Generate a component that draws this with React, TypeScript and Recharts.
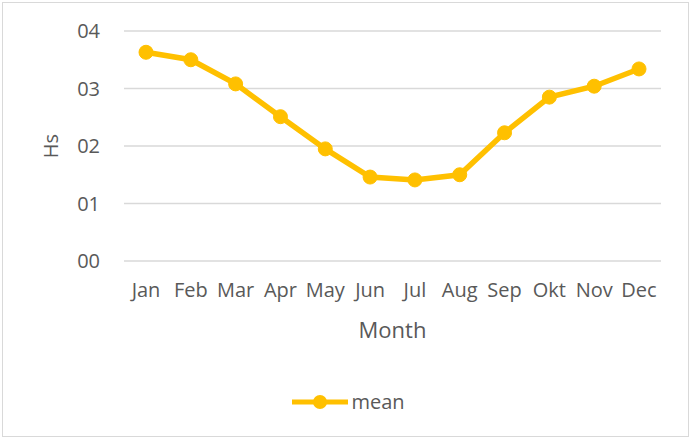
import React from 'react';
import {
  LineChart,
  Line,
  XAxis,
  YAxis,
  CartesianGrid,
  Legend,
  Label,
} from 'recharts';

const months = ['Jan', 'Feb', 'Mar', 'Apr', 'May', 'Jun', 'Jul', 'Aug', 'Sep', 'Okt', 'Nov', 'Dec'];
const meanHs = [3.63, 3.5, 3.08, 2.51, 1.95, 1.46, 1.41, 1.5, 2.23, 2.85, 3.04, 3.34];
const yTicks = [0, 1, 2, 3, 4];

const data = months.map((m, i) => ({ month: m, mean: meanHs[i] }));

const FONT = '"Open Sans", "Liberation Sans", sans-serif';
const TEXT = '#595959';
const GOLD = '#FFC000';

const LegendContent = (props: any) => {
  const item = props.payload && props.payload[0];
  if (!item) return null;
  return (
    <div style={{ display: 'flex', justifyContent: 'center', alignItems: 'center', paddingLeft: 6 }}>
      <svg width={56} height={18}>
        <line x1={0} y1={9} x2={56} y2={9} stroke={GOLD} strokeWidth={5} strokeLinecap="round" />
        <circle cx={28} cy={9} r={7} fill={GOLD} />
      </svg>
      <span style={{ marginLeft: 3, fontFamily: FONT, fontSize: 20, color: TEXT, lineHeight: '24px' }}>
        {item.value}
      </span>
    </div>
  );
};

const App = () => {
  return (
    <div style={{ position: 'absolute', left: 0, top: 0, width: 691, height: 439, background: '#fff' }}>
      <div
        style={{
          position: 'absolute',
          left: 2,
          top: 2,
          width: 685,
          height: 433,
          border: '1px solid #d9d9d9',
        }}
      />
      <LineChart
        width={691}
        height={439}
        data={data}
        margin={{ top: 31, right: 30, bottom: 25, left: 0 }}
        style={{ position: 'absolute', left: 0, top: 0 }}
      >
        <CartesianGrid horizontal vertical={false} stroke="#d9d9d9" strokeWidth={1.5} />
        <XAxis
          dataKey="month"
          axisLine={false}
          tickLine={false}
          tickSize={0}
          tickMargin={22}
          height={129}
          interval={0}
          padding={{ left: 22, right: 22 }}
          tick={{ fill: TEXT, fontSize: 20, fontFamily: FONT }}
        >
          <Label
            content={(p: any) => {
              const vb = p.viewBox || {};
              return (
                <text
                  x={vb.x + vb.width / 2}
                  y={vb.y + 77}
                  textAnchor="middle"
                  fill={TEXT}
                  fontSize={22}
                  fontFamily={FONT}
                >
                  Month
                </text>
              );
            }}
          />
        </XAxis>
        <YAxis
          width={124}
          domain={[0, 4]}
          ticks={yTicks}
          axisLine={false}
          tickLine={false}
          tickSize={0}
          tickMargin={24}
          tickFormatter={(v: number) => String(v).padStart(2, '0')}
          tick={{ fill: TEXT, fontSize: 20, fontFamily: FONT }}
        >
          <Label
            content={(p: any) => {
              const vb = p.viewBox || {};
              const cx = 50;
              const cy = vb.y + vb.height / 2;
              return (
                <text
                  x={cx}
                  y={cy}
                  transform={`rotate(-90 ${cx} ${cy})`}
                  textAnchor="middle"
                  dominantBaseline="central"
                  fill={TEXT}
                  fontSize={20}
                  fontFamily={FONT}
                >
                  Hs
                </text>
              );
            }}
          />
        </YAxis>
        <Legend
          verticalAlign="bottom"
          height={24}
          content={LegendContent}
          wrapperStyle={{ left: 0, width: 691 }}
        />
        <Line
          type="linear"
          dataKey="mean"
          name="mean"
          stroke={GOLD}
          strokeWidth={5.5}
          dot={{ r: 7, fill: GOLD, stroke: GOLD, strokeWidth: 1 }}
          activeDot={false}
          isAnimationActive={false}
        />
      </LineChart>
    </div>
  );
};

export default App;
